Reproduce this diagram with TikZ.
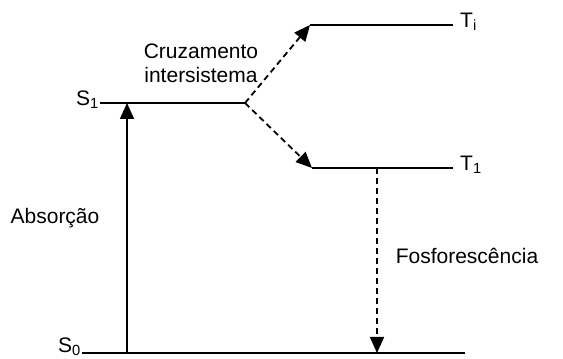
\documentclass[tikz,border=0pt]{standalone}
\usepackage{fontspec}
\setmainfont{Liberation Sans}
\usetikzlibrary{arrows.meta}
\begin{document}
\begin{tikzpicture}[x=1pt,y=1pt,
    level/.style={line width=1.8pt},
    trans/.style={line width=1.8pt,-{Triangle[length=16pt,width=14pt]}},
    dashtrans/.style={trans,dash pattern=on 6pt off 4pt},
    lbl/.style={font=\fontsize{21}{24}\selectfont,inner sep=1pt}]
    \useasboundingbox (0,0) rectangle (563,359);
    % energy levels
    \coordinate (s0a) at (82,6);
    \coordinate (s0b) at (465,6);
    \coordinate (s1a) at (100,256);
    \coordinate (s1b) at (245,256);
    \coordinate (tia) at (310,334);
    \coordinate (tib) at (453,334);
    \coordinate (t1a) at (312,191);
    \coordinate (t1b) at (453,191);
    \draw[level] (s0a) -- (s0b);
    \draw[level] (s1a) -- (s1b);
    \draw[level] (tia) -- (tib);
    \draw[level] (t1a) -- (t1b);
    \node[lbl,anchor=east] (s0) at ([yshift=6pt]s0a) {S\textsubscript{0}};
    \node[lbl,anchor=east] (s1) at ([yshift=3pt]s1a) {S\textsubscript{1}};
    \node[lbl,anchor=west] (ti) at ([xshift=6pt,yshift=3pt]tib) {T\textsubscript{i}};
    \node[lbl,anchor=west] (t1) at ([xshift=6pt,yshift=3pt]t1b) {T\textsubscript{1}};
    % transitions
    \coordinate (abs) at (127,6);
    \coordinate (fos) at (377,191);
    \draw[trans] (abs) -- (abs |- s1a);
    \draw[dashtrans] (s1b) -- (tia);
    \draw[dashtrans] (s1b) -- (t1a);
    \draw[dashtrans] (fos) -- (fos |- s0a);
    % labels
    \node[lbl,align=center] (cruz) at (201,296) {Cruzamento\\intersistema};
    \node[lbl] (absorcao) at (55,141) {Absorção};
    \node[lbl] (fosfo) at (467,103) {Fosforescência};
\end{tikzpicture}
\end{document}
